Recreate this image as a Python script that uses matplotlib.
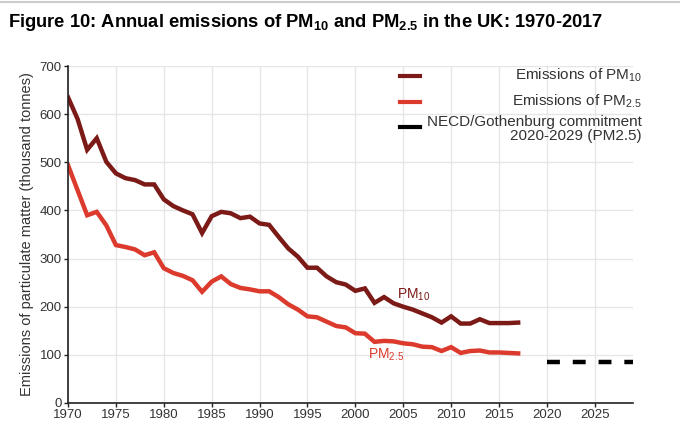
import numpy as np
import matplotlib
matplotlib.use("Agg")
import matplotlib.pyplot as plt
from matplotlib.lines import Line2D

plt.rcParams['font.family'] = ['Liberation Sans', 'DejaVu Sans']
plt.rcParams['mathtext.fontset'] = 'custom'
plt.rcParams['mathtext.rm'] = 'Liberation Sans'
plt.rcParams['mathtext.it'] = 'Liberation Sans'
plt.rcParams['mathtext.bf'] = 'Liberation Sans:bold'

years = list(range(1970, 2018))
pm10 = [635, 590, 526, 550, 501, 477, 467, 463, 454, 454,
        423, 409, 400, 392, 353, 388, 397, 394, 384, 387,
        373, 370, 345, 321, 304, 281, 281, 263, 251, 246,
        233, 238, 208, 220, 207, 200, 194, 186, 178, 167,
        180, 165, 165, 174, 166, 166, 166, 167]
pm25 = [494, 442, 390, 397, 369, 328, 324, 319, 307, 313,
        280, 270, 264, 255, 231, 252, 263, 247, 239, 236,
        232, 232, 220, 205, 194, 180, 178, 169, 160, 157,
        145, 144, 127, 129, 128, 124, 122, 117, 116, 108,
        116, 104, 108, 109, 105, 105, 104, 103]
target_years = [2020, 2029]
target_value = [85, 85]

c10 = '#7b1a17'
c25 = '#dc3a2c'
txt = '#333333'

fig = plt.figure(figsize=(6.8, 4.3), dpi=100)
ax = fig.add_axes([0.1, 0.0628, 0.831, 0.7837])

ax.plot(years, pm10, color=c10, lw=3.2, solid_joinstyle='miter')
ax.plot(years, pm25, color=c25, lw=3.2, solid_joinstyle='miter')
ax.plot(target_years, target_value, color='black', lw=3.2, dashes=(2.9, 2.9),
        dash_capstyle='butt')

ax.set_xlim(1970, 2029)
ax.set_ylim(0, 700)
ax.set_xticks(range(1970, 2030, 5))
ax.set_yticks(range(0, 701, 100))
ax.grid(True, color='#e6e6e6', lw=1)
ax.set_axisbelow(True)
for s in ['top', 'right']:
    ax.spines[s].set_visible(False)
for s in ['left', 'bottom']:
    ax.spines[s].set_color('#222222')
    ax.spines[s].set_linewidth(1.2)
ax.tick_params(labelsize=9.5, colors=txt, length=3, width=1, pad=1.5)
ax.tick_params(axis='both', color='#222222')
ax.set_ylabel('Emissions of particulate matter (thousand tonnes)', fontsize=10.5, color=txt, labelpad=4)

ax.text(2004.4, 224, r'PM$_{10}$', color=c10, fontsize=10, va='center', ha='left')
ax.text(2001.3, 100, r'PM$_{2.5}$', color=c25, fontsize=10, va='center', ha='left')

# legend drawn by hand, text right aligned
legend_items = [(c10, r'Emissions of PM$_{10}$', 0.971),
                (c25, r'Emissions of PM$_{2.5}$', 0.894),
                ('black', 'NECD/Gothenburg commitment\n2020-2029 (PM2.5)', 0.820)]
for col, label, yy in legend_items:
    ax.add_line(Line2D([0.587, 0.623], [yy, yy], transform=ax.transAxes,
                       color=col, lw=3, clip_on=False))
    ty = yy if '\n' not in label else yy - 0.008
    ax.text(1.016, ty, label, transform=ax.transAxes, ha='right', va='center',
            fontsize=11, color=txt, multialignment='right', linespacing=1.0)

fig.text(0.012, 0.948, r'Figure 10: Annual emissions of PM$_{\mathbf{10}}$ and PM$_{\mathbf{2.5}}$ in the UK: 1970-2017',
         fontsize=13.2, fontweight='bold', va='center', ha='left', color='black')
fig.add_artist(Line2D([0, 1], [0.996, 0.996], color='#cccccc', lw=1.5))

fig.savefig('out.png', dpi=100)
